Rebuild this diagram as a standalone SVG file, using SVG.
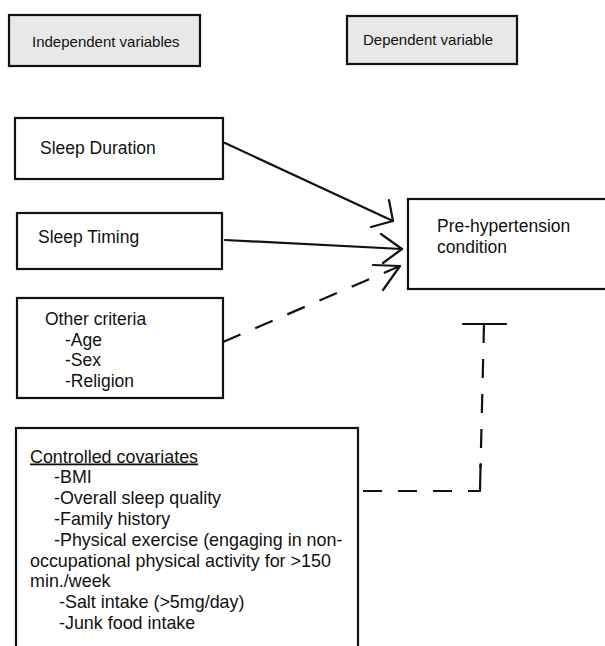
<svg xmlns="http://www.w3.org/2000/svg" width="605" height="646" viewBox="0 0 605 646">
<style>
  text { font-family: "Liberation Sans", Arial, sans-serif; fill: #111; }
  .box { fill: #fff; stroke: #111; stroke-width: 2.2; }
  .hdr { fill: #e8e8e8; stroke: #111; stroke-width: 2.2; }
  .ln { fill: none; stroke: #111; stroke-width: 2.2; stroke-linecap: round; stroke-linejoin: round; }
  .dash { stroke-dasharray: 19 16; stroke-linecap: butt; }
  .t15 { font-size: 15px; }
  .t17 { font-size: 17.5px; }
  .t18 { font-size: 17.9px; }
</style>
<rect width="605" height="646" fill="#fff"/>
<g id="hdr-independent">
  <rect class="hdr" x="9" y="15" width="191" height="51"/>
  <text class="t15" x="32" y="47">Independent variables</text>
</g>
<g id="hdr-dependent">
  <rect class="hdr" x="347" y="16" width="170" height="48"/>
  <text class="t15" x="363" y="44.5">Dependent variable</text>
</g>
<g id="sleep-duration">
  <rect class="box" x="15" y="118" width="208" height="61"/>
  <text class="t17" x="40" y="154">Sleep Duration</text>
</g>
<g id="sleep-timing">
  <rect class="box" x="17" y="213" width="205" height="56"/>
  <text class="t17" x="38" y="243">Sleep Timing</text>
</g>
<g id="other-criteria">
  <rect class="box" x="17" y="298" width="206" height="100"/>
  <text class="t17" x="45" y="325">Other criteria</text>
  <text class="t17" x="65" y="345.5">-Age</text>
  <text class="t17" x="65" y="366">-Sex</text>
  <text class="t17" x="65" y="387">-Religion</text>
</g>
<g id="pre-hypertension">
  <rect class="box" x="408" y="199" width="200" height="90"/>
  <text class="t17" x="437" y="232">Pre-hypertension</text>
  <text class="t17" x="437" y="252.5">condition</text>
</g>
<g id="controlled-covariates">
  <rect class="box" x="16" y="428" width="342" height="230"/>
  <text class="t18" x="30" y="462.5" text-decoration="underline">Controlled covariates</text>
  <text class="t18" x="54" y="483.3">-BMI</text>
  <text class="t18" x="54" y="504.1">-Overall sleep quality</text>
  <text class="t18" x="54" y="524.9">-Family history</text>
  <text class="t18" x="54" y="545.7">-Physical exercise (engaging in non-</text>
  <text class="t18" x="30" y="566.5">occupational physical activity for &gt;150</text>
  <text class="t18" x="30" y="587.3">min./week</text>
  <text class="t18" x="59" y="608.1">-Salt intake (&gt;5mg/day)</text>
  <text class="t18" x="59" y="628.9">-Junk food intake</text>
</g>
<g id="connectors">
  <line class="ln" x1="225" y1="143" x2="393" y2="221"/>
  <polyline class="ln" points="389,200 393,221 371,227"/>
  <line class="ln" x1="225" y1="240" x2="402" y2="249"/>
  <polyline class="ln" points="381,234 402,249 383,263"/>
  <line class="ln dash" x1="223" y1="342" x2="400" y2="266"/>
  <polyline class="ln" points="373,265 400,266 383,290"/>
  <line class="ln dash" x1="363" y1="491" x2="470" y2="491"/>
  <line class="ln dash" x1="484" y1="324" x2="480.5" y2="468"/>
  <polyline class="ln" points="480.6,464 480,491 469,491"/>
  <line class="ln" x1="463" y1="324" x2="506" y2="324"/>
</g>
</svg>
